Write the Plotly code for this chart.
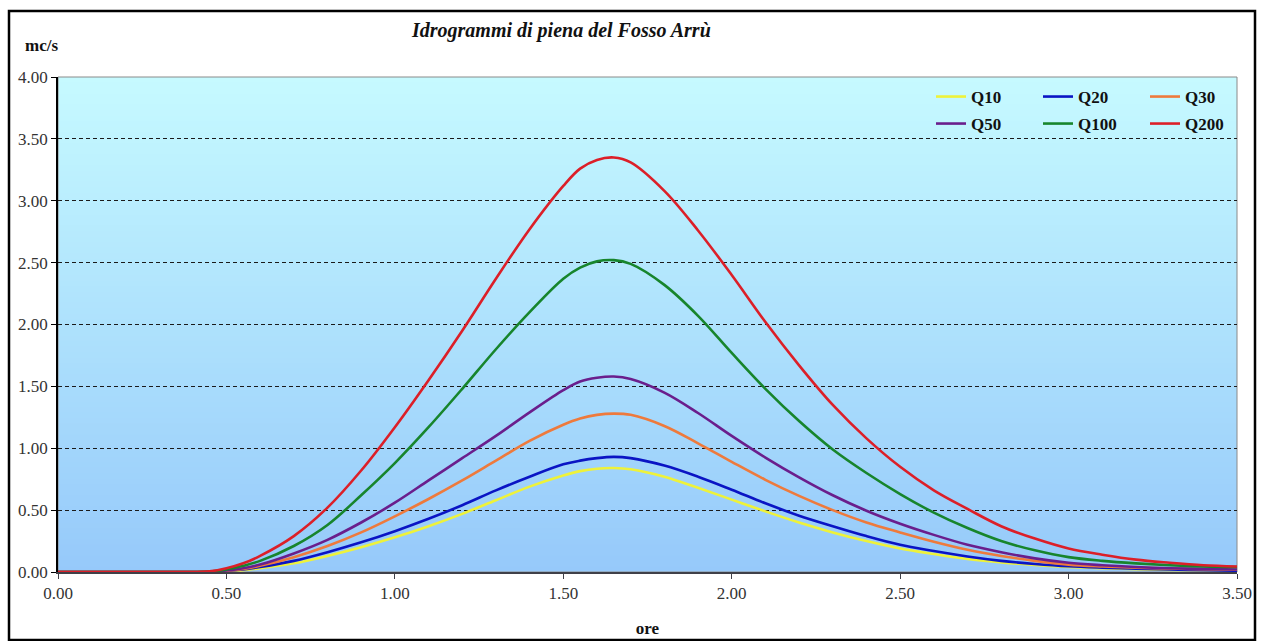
import plotly.graph_objects as go

# Time axis (hours) shared by every hydrograph
ore = [0.0, 0.1, 0.2, 0.3, 0.4, 0.45, 0.5, 0.55, 0.6, 0.7, 0.8, 0.9, 1.0, 1.1, 1.2,
       1.3, 1.4, 1.5, 1.55, 1.6, 1.65, 1.7, 1.8, 1.9, 2.0, 2.1, 2.2, 2.3, 2.4, 2.5,
       2.6, 2.7, 2.8, 2.9, 3.0, 3.1, 3.2, 3.3, 3.4, 3.5]

# Discharge (mc/s) for each return period
q10 = [0, 0, 0, 0, 0, 0.001, 0.006, 0.015, 0.03, 0.07, 0.13, 0.20, 0.28, 0.37, 0.47,
       0.58, 0.69, 0.78, 0.815, 0.835, 0.84, 0.83, 0.77, 0.68, 0.585, 0.49, 0.40, 0.32,
       0.25, 0.19, 0.145, 0.105, 0.078, 0.057, 0.04, 0.03, 0.023, 0.017, 0.013, 0.009]
q20 = [0, 0, 0, 0, 0, 0.001, 0.008, 0.02, 0.04, 0.09, 0.16, 0.24, 0.33, 0.43, 0.54,
       0.66, 0.77, 0.87, 0.90, 0.92, 0.93, 0.92, 0.86, 0.77, 0.665, 0.555, 0.455, 0.37,
       0.29, 0.22, 0.17, 0.125, 0.09, 0.065, 0.046, 0.035, 0.027, 0.02, 0.015, 0.01]
q30 = [0, 0, 0, 0, 0, 0.002, 0.01, 0.025, 0.05, 0.12, 0.21, 0.32, 0.45, 0.59, 0.74,
       0.90, 1.06, 1.19, 1.24, 1.27, 1.28, 1.27, 1.18, 1.04, 0.89, 0.745, 0.615, 0.50,
       0.40, 0.32, 0.245, 0.18, 0.13, 0.09, 0.06, 0.045, 0.035, 0.028, 0.022, 0.018]
q50 = [0, 0, 0, 0, 0, 0.002, 0.012, 0.03, 0.06, 0.15, 0.26, 0.40, 0.56, 0.74, 0.92,
       1.10, 1.29, 1.47, 1.54, 1.57, 1.58, 1.56, 1.45, 1.285, 1.10, 0.925, 0.765, 0.62,
       0.495, 0.39, 0.30, 0.22, 0.16, 0.11, 0.075, 0.055, 0.04, 0.03, 0.025, 0.02]
q100 = [0, 0, 0, 0, 0, 0.003, 0.02, 0.05, 0.09, 0.21, 0.38, 0.62, 0.88, 1.17, 1.48,
        1.80, 2.10, 2.37, 2.46, 2.51, 2.52, 2.49, 2.32, 2.07, 1.77, 1.48, 1.22, 0.99,
        0.80, 0.63, 0.48, 0.355, 0.25, 0.175, 0.12, 0.09, 0.07, 0.055, 0.045, 0.04]
q200 = [0, 0, 0, 0, 0, 0.005, 0.03, 0.07, 0.13, 0.29, 0.52, 0.82, 1.17, 1.55, 1.95,
        2.37, 2.77, 3.12, 3.26, 3.33, 3.35, 3.31, 3.08, 2.76, 2.40, 2.02, 1.67, 1.35,
        1.08, 0.85, 0.66, 0.51, 0.37, 0.27, 0.19, 0.14, 0.10, 0.075, 0.055, 0.045]

serie = [
    ("Q10", q10, "#EEF23A"),
    ("Q20", q20, "#0A14C4"),
    ("Q30", q30, "#EE7A3C"),
    ("Q50", q50, "#6A1E8C"),
    ("Q100", q100, "#17852C"),
    ("Q200", q200, "#DC1F28"),
]

FONT = "Liberation Serif"
W, H = 1264, 641
ML, MR, MT, MB = 58, 27, 77, 69
PW, PH = W - ML - MR, H - MT - MB


def px_x(x):
    return (x - ML) / PW


def px_y(y):
    return (H - MB - y) / PH


fig = go.Figure()
legend_ids = ["legend", "legend2", "legend3", "legend4", "legend5", "legend6"]
for (nome, valori, colore), leg in zip(serie, legend_ids):
    fig.add_trace(go.Scatter(
        x=ore, y=valori, name="<b>%s</b>" % nome, mode="lines", legend=leg,
        line=dict(color=colore, width=2.6, shape="spline", smoothing=1.0),
    ))

# Vertical gradient behind the plot area (slightly overlapping bands)
shapes = []
N = 90
top = (198, 250, 255)
bot = (150, 201, 250)
for i in range(N):
    f = (i + 0.5) / N
    c = tuple(round(bot[k] + (top[k] - bot[k]) * f) for k in range(3))
    shapes.append(dict(type="rect", xref="paper", yref="paper", layer="below",
                       x0=0, x1=1, y0=i / N, y1=min(1.0, (i + 1.6) / N),
                       fillcolor="rgb(%d,%d,%d)" % c, line=dict(width=0)))
# Plot-area border
shapes.append(dict(type="rect", xref="paper", yref="paper", layer="below",
                   x0=0, x1=1, y0=0, y1=1, line=dict(color="#8a8a8a", width=1)))
# Outer frame
shapes.append(dict(type="rect", xref="paper", yref="paper", layer="above",
                   x0=px_x(9), x1=px_x(1255), y0=px_y(640), y1=px_y(11),
                   line=dict(color="black", width=2.5)))

# Two rows of three legend entries, each entry placed on its own
legend_pos = [(931, 97), (1038, 97), (1145, 97), (931, 124), (1038, 124), (1145, 124)]
legends = {}
for leg, (lx, ly) in zip(legend_ids, legend_pos):
    legends[leg] = dict(
        x=px_x(lx), y=px_y(ly), xanchor="left", yanchor="middle",
        orientation="h", bgcolor="rgba(0,0,0,0)", borderwidth=0,
        font=dict(family=FONT, size=17, color="#111111"),
    )

fig.update_layout(
    width=W, height=H,
    margin=dict(l=ML, r=MR, t=MT, b=MB, autoexpand=False),
    paper_bgcolor="white",
    plot_bgcolor="rgb(174,225,252)",
    shapes=shapes,
    showlegend=True,
    **legends,
    xaxis=dict(
        range=[0, 3.5], dtick=0.5, tick0=0, tickformat=".2f",
        showgrid=False, zeroline=False,
        showline=True, linecolor="#404048", linewidth=1.5,
        ticks="outside", ticklen=5, tickcolor="#404048",
        tickfont=dict(family=FONT, size=17, color="#333333"),
        title=dict(text="<b>ore</b>", font=dict(family=FONT, size=17, color="#111111"),
                   standoff=20),
    ),
    yaxis=dict(
        range=[0, 4], dtick=0.5, tick0=0, tickformat=".2f",
        showgrid=True, gridcolor="#1a1a1a", gridwidth=1, griddash="4px,3px",
        zeroline=False,
        showline=True, linecolor="black", linewidth=1.5,
        ticks="outside", ticklen=5, tickcolor="black",
        tickfont=dict(family=FONT, size=17, color="#333333"),
    ),
    annotations=[
        dict(text="<b><i>Idrogrammi di piena del Fosso Arrù</i></b>",
             xref="paper", yref="paper", x=px_x(561), y=px_y(30),
             xanchor="center", yanchor="middle", showarrow=False,
             font=dict(family=FONT, size=20, color="#111111")),
        dict(text="<b>mc/s</b>",
             xref="paper", yref="paper", x=px_x(41), y=px_y(45),
             xanchor="center", yanchor="middle", showarrow=False,
             font=dict(family=FONT, size=17, color="#111111")),
    ],
)

fig.write_html("out.html")
